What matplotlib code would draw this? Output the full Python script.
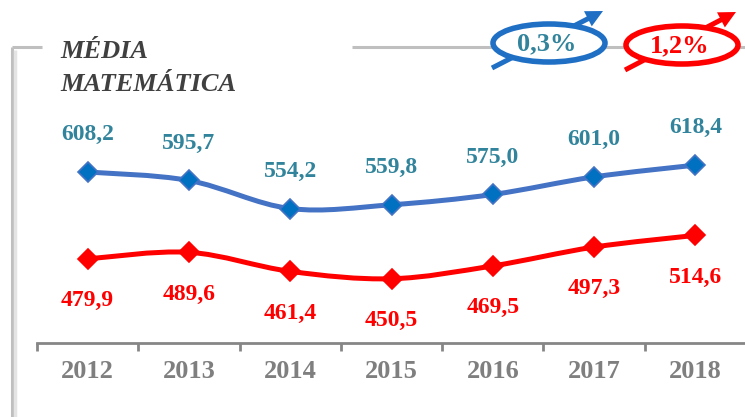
import matplotlib
matplotlib.use("Agg")
import matplotlib.pyplot as plt
from matplotlib.path import Path
from matplotlib.patches import PathPatch, Ellipse
import numpy as np

years = ['2012', '2013', '2014', '2015', '2016', '2017', '2018']
top_values = [608.2, 595.7, 554.2, 559.8, 575.0, 601.0, 618.4]
bottom_values = [479.9, 489.6, 461.4, 450.5, 469.5, 497.3, 514.6]
top_labels = ['608,2', '595,7', '554,2', '559,8', '575,0', '601,0', '618,4']
bottom_labels = ['479,9', '489,6', '461,4', '450,5', '469,5', '497,3', '514,6']
title_lines = ['MÉDIA', 'MATEMÁTICA']
growth_top = '0,3%'
growth_bottom = '1,2%'

serif = ['Liberation Serif', 'DejaVu Serif']
blue_line = '#4472C4'
blue_mark = '#0070C0'
teal = '#31849B'
red = '#FF0000'
grey = '#868686'


def smooth_path(xs, ys):
    # Catmull-Rom style bezier, like the smoothed lines of a spreadsheet
    verts = [(xs[0], ys[0])]
    codes = [Path.MOVETO]
    n = len(xs)
    for i in range(n - 1):
        x0, y0 = (xs[i - 1], ys[i - 1]) if i > 0 else (xs[i], ys[i])
        x1, y1 = xs[i], ys[i]
        x2, y2 = xs[i + 1], ys[i + 1]
        x3, y3 = (xs[i + 2], ys[i + 2]) if i + 2 < n else (x2, y2)
        c1 = (x1 + (x2 - x0) / 6.0, y1 + (y2 - y0) / 6.0)
        c2 = (x2 - (x3 - x1) / 6.0, y2 - (y3 - y1) / 6.0)
        verts += [c1, c2, (x2, y2)]
        codes += [Path.CURVE4] * 3
    return Path(verts, codes)


fig = plt.figure(figsize=(7.45, 4.17), dpi=100)

# overlay in pixel coordinates for frame, title and badges
deco = fig.add_axes([0, 0, 1, 1])
deco.set_xlim(0, 745)
deco.set_ylim(417, 0)
deco.axis('off')

deco.plot([12, 12], [47, 417], color='#BFBFBF', lw=2.2, solid_capstyle='butt')
deco.plot([15, 15], [50, 417], color='#E4E4E4', lw=2.5, solid_capstyle='butt')
deco.plot([12, 42], [47, 47], color='#BFBFBF', lw=2.2, solid_capstyle='butt')
deco.plot([352, 745], [47, 47], color='#BFBFBF', lw=2.2, solid_capstyle='butt')

deco.text(60, 51, title_lines[0], family=serif, fontsize=19, fontweight='bold',
          fontstyle='italic', color='#404040', va='center', ha='left')
deco.text(60, 84, title_lines[1], family=serif, fontsize=19, fontweight='bold',
          fontstyle='italic', color='#404040', va='center', ha='left')

badges = [(549, 43, (492, 68), (603, 11), '#1F6FC5', teal, growth_top),
          (682, 45, (625, 70), (736, 12), red, red, growth_bottom)]
for cx, cy, tail, head, col, tcol, txt in badges:
    deco.arrow(tail[0], tail[1], head[0] - tail[0], head[1] - tail[1], width=5,
               head_width=17, head_length=17, length_includes_head=True,
               color=col, lw=0, zorder=3)
    ell = Ellipse((cx, cy), 112, 38, facecolor='white', edgecolor=col, lw=4, zorder=4)
    deco.add_patch(ell)
    deco.text(cx - 2, cy + 1, txt, family=serif, fontsize=19, fontweight='bold', color=tcol,
              ha='center', va='center', zorder=5)

# main chart
ax = fig.add_axes([37 / 745, (417 - 343) / 417, 709 / 745, 343 / 417])
ax.set_facecolor('none')
x = np.arange(len(years))
ax.set_xlim(-0.5, 6.5)
ax.set_ylim(355.6, 862.3)

for vals, lcol, mcol in [(top_values, blue_line, blue_mark), (bottom_values, red, red)]:
    ax.add_patch(PathPatch(smooth_path(list(x), vals), facecolor='none', edgecolor=lcol,
                           lw=3.6, capstyle='round', joinstyle='round', zorder=3))
    ax.plot(x, vals, linestyle='none', marker='D', markersize=10, color=mcol,
            markeredgecolor=lcol, markeredgewidth=1.2, zorder=4)

for xi, v, lab in zip(x, top_values, top_labels):
    ax.annotate(lab, (xi, v), xytext=(0, 27), textcoords='offset points', ha='center',
                va='center', family=serif, fontsize=17, fontweight='bold', color=teal)
for xi, v, lab in zip(x, bottom_values, bottom_labels):
    ax.annotate(lab, (xi, v), xytext=(0, -30), textcoords='offset points', ha='center',
                va='center', family=serif, fontsize=17, fontweight='bold', color=red)

for s in ['top', 'left', 'right']:
    ax.spines[s].set_visible(False)
ax.spines['bottom'].set_color(grey)
ax.spines['bottom'].set_linewidth(2)
ax.set_yticks([])
ax.set_xticks(x)
ax.set_xticklabels(years, family=serif, fontsize=19, fontweight='bold', color='#7F7F7F')
ax.set_xticks(np.arange(-0.5, 7.0, 1.0), minor=True)
ax.tick_params(axis='x', which='major', length=0, pad=12)
ax.tick_params(axis='x', which='minor', length=6, width=2, color=grey, direction='out')

fig.savefig('out.png', dpi=100)
